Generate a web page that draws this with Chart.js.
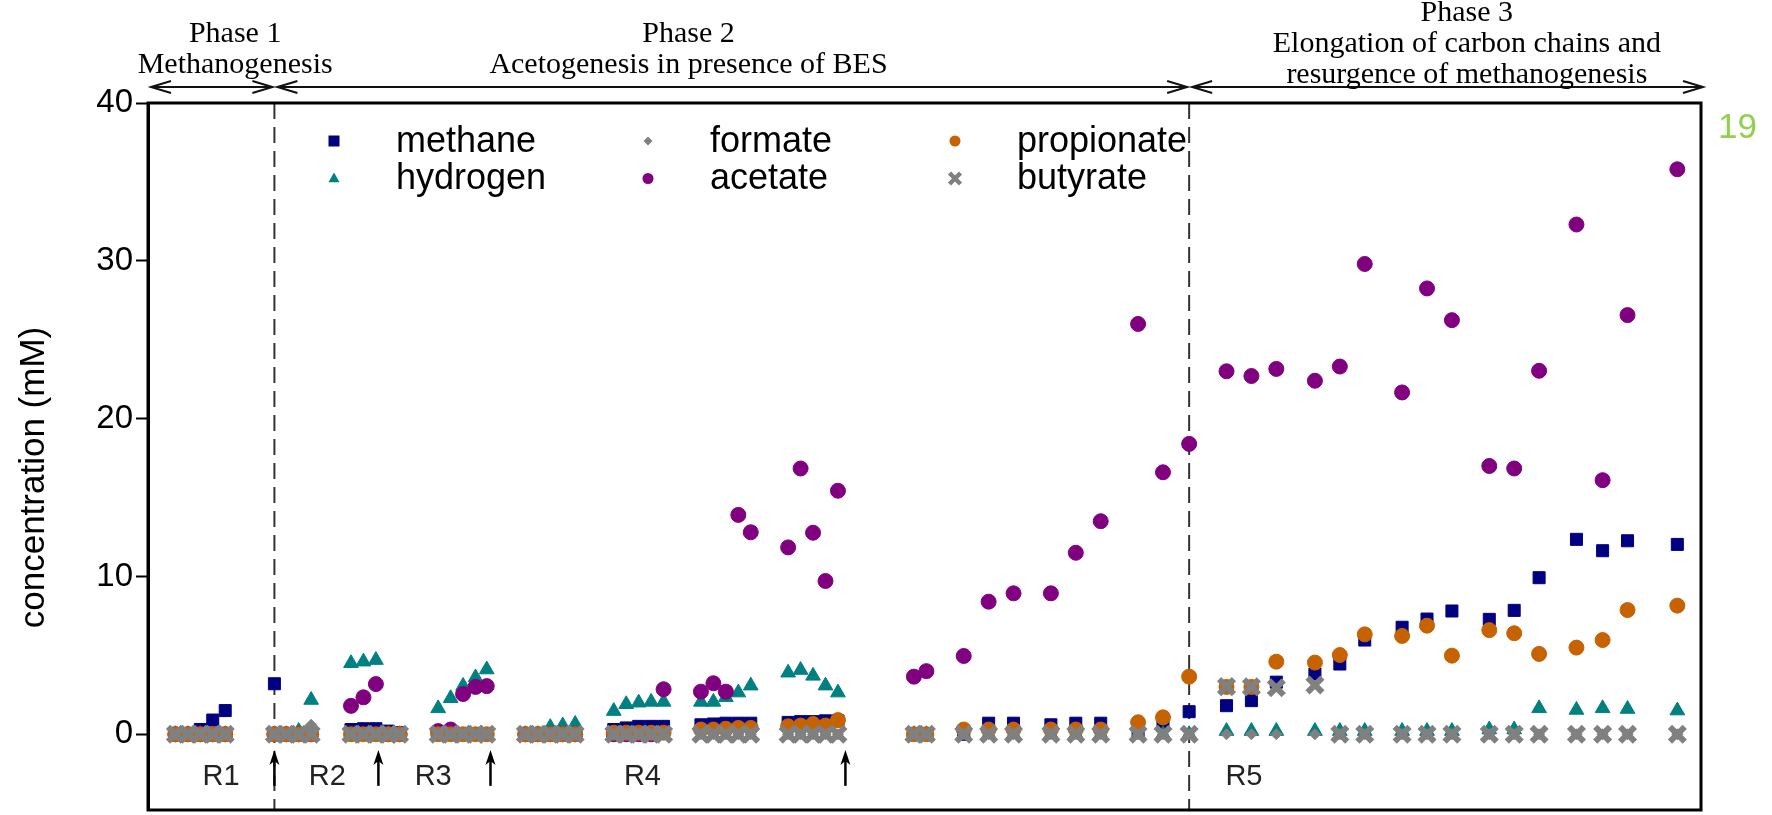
<!DOCTYPE html>
<html>
<head>
<meta charset="utf-8">
<title>Concentration by phase</title>
<script src="https://cdn.jsdelivr.net/npm/chart.js@4.4.1/dist/chart.umd.min.js"></script>
<style>
  html, body { margin: 0; padding: 0; background: #fff; }
  #wrap { width: 1772px; height: 815px; }
</style>
</head>
<body>
<div id="wrap"><canvas id="chart" width="1772" height="815"></canvas></div>
<script>
const sampleDays = [
  2.2, 3.2, 4.2, 5.2, 6.2,                 // R1
  10.15, 11.1, 12.1, 13.1,                 // R2 (start)
  16.3, 17.3, 18.3, 19.3, 20.2,            // R2
  23.3, 24.3, 25.3, 26.3, 27.2,            // R3
  30.3, 31.3, 32.3, 33.3, 34.3,            // R4
  37.4, 38.4, 39.4, 40.4, 41.4,
  44.4, 45.4, 46.4, 47.4, 48.4,
  51.4, 52.4, 53.4, 54.4, 55.4,
  61.5, 62.5, 65.5, 67.5, 69.5, 72.5, 74.5, 76.5, 79.5, 81.5, 83.6,
  86.6, 88.6, 90.6, 93.7, 95.7, 97.7, 100.7, 102.7, 104.7, 107.7, 109.7, 111.7, 114.7, 116.8, 118.8, 122.8 // R5
];

// Concentrations (mM)
const methane = [
  0, 0, 0.3, 0.9, 1.5,
  3.2, 0, 0, 0,
  0.3, 0.35, 0.35, 0.2, 0.1,
  0, 0, 0, 0, 0,
  0, 0, 0, 0, 0,
  0.3, 0.4, 0.5, 0.5, 0.5,
  0.6, 0.65, 0.7, 0.7, 0.7,
  0.75, 0.8, 0.8, 0.85, 0.85,
  0, 0, 0, 0.7, 0.7, 0.6, 0.7, 0.7, 0.1, 0.65, 1.43,
  1.81, 2.13, 3.3, 3.82, 4.45, 5.97, 6.78, 7.3, 7.81, 7.28, 7.85, 9.92, 12.35, 11.63, 12.26, 12.03
];
const hydrogen = [
  0, 0, 0, 0, 0,
  0, 0, 0.2, 2.17,
  4.5, 4.6, 4.7, 0, 0,
  1.64, 2.28, 3.06, 3.6, 4.1,
  0, 0, 0.45, 0.55, 0.65,
  1.47, 1.9, 2.0, 2.05, 2.05,
  2.05, 2.05, 2.34, 2.64, 3.08,
  3.9, 4.07, 3.7, 3.08, 2.64,
  0, 0, 0, 0, 0, 0, 0, 0, 0, 0, 0,
  0.2, 0.2, 0.2, 0.2, 0.2, 0.2, 0.2, 0.2, 0.2, 0.3, 0.3, 1.64, 1.54, 1.64, 1.6, 1.5
];
const formate = [
  0, 0, 0, 0, 0,
  0, 0, 0, 0.6,
  0, 0, 0, 0, 0,
  0, 0, 0, 0, 0,
  0, 0, 0, 0, 0,
  0, 0, 0, 0, 0,
  0, 0, 0, 0, 0,
  0, 0, 0, 0, 0,
  0, 0, 0, 0, 0, 0, 0, 0, 0, 0, 0,
  0, 0, 0, 0, 0, 0, 0, 0, 0, 0, 0, 0, 0, 0, 0, 0
];
const acetate = [
  0, 0, 0, 0, 0,
  0, 0, 0, 0,
  1.8, 2.34, 3.18, 0, 0,
  0.2, 0.3, 2.55, 3.0, 3.05,
  0, 0, 0, 0, 0,
  0, 0, 0, 0, 2.85,
  2.7, 3.23, 2.7, 13.9, 12.8,
  11.84, 16.84, 12.77, 9.71, 15.43,
  3.65, 4.0, 4.96, 8.4, 8.93, 8.93, 11.5, 13.5, 26.0, 16.6, 18.4,
  23.0, 22.7, 23.15, 22.4, 23.3, 29.8, 21.66, 28.25, 26.24, 17.0, 16.84, 23.03, 32.3, 16.1, 26.56, 35.8
];
const propionate = [
  0, 0, 0, 0, 0,
  0, 0, 0, 0,
  0, 0, 0, 0, 0,
  0, 0, 0, 0, 0,
  0, 0, 0, 0, 0,
  0.1, 0.1, 0.1, 0.1, 0.1,
  0.3, 0.3, 0.35, 0.4, 0.4,
  0.5, 0.55, 0.65, 0.55, 0.9,
  0, 0, 0.3, 0.3, 0.3, 0.3, 0.3, 0.3, 0.76, 1.07, 3.65,
  3.0, 3.0, 4.6, 4.54, 5.02, 6.33, 6.23, 6.88, 4.98, 6.6, 6.4, 5.09, 5.49, 5.97, 7.87, 8.15
];
const butyrate = [
  0, 0, 0, 0, 0,
  0, 0, 0, 0,
  0, 0, 0, 0, 0,
  0, 0, 0, 0, 0,
  0, 0, 0, 0, 0,
  0, 0, 0, 0, 0,
  0, 0, 0, 0, 0,
  0, 0, 0, 0, 0,
  0, 0, 0, 0, 0, 0, 0, 0, 0, 0, 0,
  3.02, 3.0, 2.95, 3.12, 0, 0, 0, 0, 0, 0, 0, 0, 0, 0, 0, 0
];

// Axis ticks and ranges
const yTicks = [0, 10, 20, 30, 40];
const yMin = -4.8;
const yMax = 40;
const xMax = 124.7;

// Phase annotations
const phaseBounds = [0, 10.15, 83.6, xMax];
const phaseDividers = [10.15, 83.6];
const phaseTitleX = [7.0, 43.4, 105.9];
const phaseTitles = [
  ['Phase 1', 'Methanogenesis'],
  ['Phase 2', 'Acetogenesis in presence of BES'],
  ['Phase 3', 'Elongation of carbon chains and', 'resurgence of methanogenesis']
];

// Reactor cycle labels and feeding arrows below the data
const cycleLabels = ['R1', 'R2', 'R3', 'R4', 'R5'];
const cycleLabelX = [5.86, 14.4, 22.9, 39.7, 88.0];
const cycleLabelY = -3.2;
const feedArrowX = [10.15, 18.5, 27.5, 56.0];
const feedArrowTop = -1.0;
const feedArrowBottom = -3.27;

const SANS = '"Liberation Sans", Arial, sans-serif';
const SERIF = '"Liberation Serif", "Times New Roman", serif';

const seriesStyle = [
  { label: 'methane', data: methane, color: '#000080', style: 'rect', radius: 8.5, order: 6 },
  { label: 'hydrogen', data: hydrogen, color: '#008080', style: 'triangle', radius: 8.5, order: 5 },
  { label: 'formate', data: formate, color: '#808080', style: 'rectRot', radius: 5.5, order: 2 },
  { label: 'acetate', data: acetate, color: '#800080', style: 'circle', radius: 7.5, order: 4 },
  { label: 'propionate', data: propionate, color: '#C66300', style: 'circle', radius: 7.5, order: 3 },
  { label: 'butyrate', data: butyrate, color: '#808080', style: 'crossRot', radius: 10.5, order: 1 }
];

// legend grid: column order as in the figure
const legendColumns = [['methane', 'hydrogen'], ['formate', 'acetate'], ['propionate', 'butyrate']];

const datasets = seriesStyle.map(s => ({
  label: s.label,
  data: sampleDays.map((d, i) => ({ x: d, y: s.data[i] })),
  order: s.order,
  showLine: false,
  pointStyle: s.style,
  pointRadius: s.radius,
  pointHoverRadius: s.radius,
  pointBackgroundColor: s.color,
  pointBorderColor: s.color,
  pointBorderWidth: s.style === 'crossRot' ? 6 : 1
}));

function drawMarker(ctx, style, color, x, y, r) {
  ctx.save();
  ctx.fillStyle = color;
  ctx.strokeStyle = color;
  ctx.beginPath();
  if (style === 'rect') {
    ctx.rect(x - r, y - r, 2 * r, 2 * r);
    ctx.fill();
  } else if (style === 'triangle') {
    ctx.moveTo(x, y - r * 1.1);
    ctx.lineTo(x + r, y + r * 0.7);
    ctx.lineTo(x - r, y + r * 0.7);
    ctx.closePath();
    ctx.fill();
  } else if (style === 'rectRot') {
    ctx.moveTo(x, y - r);
    ctx.lineTo(x + r, y);
    ctx.lineTo(x, y + r);
    ctx.lineTo(x - r, y);
    ctx.closePath();
    ctx.fill();
  } else if (style === 'circle') {
    ctx.arc(x, y, r, 0, Math.PI * 2);
    ctx.fill();
  } else if (style === 'crossRot') {
    ctx.lineWidth = 4.5;
    ctx.moveTo(x - r, y - r); ctx.lineTo(x + r, y + r);
    ctx.moveTo(x + r, y - r); ctx.lineTo(x - r, y + r);
    ctx.stroke();
  }
  ctx.restore();
}

function openHead(ctx, x, y, dir) {
  // dir = 1 -> points right, -1 -> points left
  ctx.beginPath();
  ctx.moveTo(x - dir * 20, y - 6);
  ctx.lineTo(x, y);
  ctx.lineTo(x - dir * 20, y + 6);
  ctx.stroke();
}

const decorations = {
  id: 'decorations',
  beforeDatasetsDraw(chart) {
    const { ctx, chartArea, scales: { x } } = chart;
    ctx.save();
    ctx.strokeStyle = '#333';
    ctx.lineWidth = 2;
    ctx.setLineDash([16, 8]);
    phaseDividers.forEach(v => {
      const px = x.getPixelForValue(v);
      ctx.beginPath();
      ctx.moveTo(px, chartArea.top);
      ctx.lineTo(px, chartArea.bottom);
      ctx.stroke();
    });
    ctx.restore();
  },
  afterDraw(chart) {
    const { ctx, chartArea, scales: { x, y } } = chart;
    ctx.save();

    // plot frame
    ctx.strokeStyle = '#000';
    ctx.lineWidth = 3;
    ctx.strokeRect(chartArea.left, chartArea.top, chartArea.right - chartArea.left, chartArea.bottom - chartArea.top);

    // y axis title, sitting a little below the middle of the axis as in the figure
    ctx.save();
    ctx.translate(34, (chartArea.top + chartArea.bottom) / 2 + 21);
    ctx.rotate(-Math.PI / 2);
    ctx.fillStyle = '#000';
    ctx.font = '35px ' + SANS;
    ctx.textAlign = 'center';
    ctx.textBaseline = 'middle';
    ctx.fillText('concentration (mM)', 0, 0);
    ctx.restore();

    // feeding arrows
    ctx.lineWidth = 2.5;
    ctx.fillStyle = '#000';
    feedArrowX.forEach(v => {
      const px = x.getPixelForValue(v);
      const top = y.getPixelForValue(feedArrowTop);
      const bot = y.getPixelForValue(feedArrowBottom);
      ctx.beginPath();
      ctx.moveTo(px, bot);
      ctx.lineTo(px, top + 6);
      ctx.stroke();
      ctx.beginPath();
      ctx.moveTo(px, top);
      ctx.lineTo(px + 5, top + 15);
      ctx.lineTo(px, top + 11);
      ctx.lineTo(px - 5, top + 15);
      ctx.closePath();
      ctx.fill();
    });

    // cycle labels
    ctx.fillStyle = '#222';
    ctx.font = '29px ' + SANS;
    ctx.textAlign = 'center';
    ctx.textBaseline = 'alphabetic';
    cycleLabels.forEach((t, i) => {
      ctx.fillText(t, x.getPixelForValue(cycleLabelX[i]), y.getPixelForValue(cycleLabelY));
    });

    // legend inside the plot
    ctx.font = '36px ' + SANS;
    ctx.textAlign = 'left';
    ctx.textBaseline = 'middle';
    const colX = [186, 500, 807];
    const rowY = [38, 75.5];
    legendColumns.forEach((col, ci) => {
      col.forEach((name, ri) => {
        const s = seriesStyle.find(ss => ss.label === name);
        const mx = chartArea.left + colX[ci];
        const my = chartArea.top + rowY[ri];
        const r = s.style === 'rectRot' ? 4.5 : 5.5;
        drawMarker(ctx, s.style, s.color, mx, my, r);
        ctx.fillStyle = '#000';
        ctx.fillText(name, mx + 62, my + 1);
      });
    });

    // phase arrows above the plot
    const arrowY = chartArea.top - 16;
    ctx.strokeStyle = '#111';
    ctx.lineWidth = 2;
    for (let i = 0; i < phaseBounds.length - 1; i++) {
      const a = x.getPixelForValue(phaseBounds[i]) + 3;
      const b = x.getPixelForValue(phaseBounds[i + 1]) + (i === phaseBounds.length - 2 ? 2 : -2);
      ctx.beginPath();
      ctx.moveTo(a, arrowY);
      ctx.lineTo(b, arrowY);
      ctx.stroke();
      openHead(ctx, a, arrowY, -1);
      openHead(ctx, b, arrowY, 1);
    }

    // phase titles
    ctx.fillStyle = '#000';
    ctx.font = '30px ' + SERIF;
    ctx.textAlign = 'center';
    ctx.textBaseline = 'alphabetic';
    phaseTitles.forEach((lines, i) => {
      const cx = x.getPixelForValue(phaseTitleX[i]);
      const lastBase = i === 2 ? arrowY - 4 : arrowY - 14;
      lines.forEach((t, li) => {
        ctx.fillText(t, cx, lastBase - (lines.length - 1 - li) * 31);
      });
    });

    // stray page number on the right
    ctx.fillStyle = '#92D050';
    ctx.font = '35px ' + SANS;
    ctx.textAlign = 'left';
    ctx.fillText('19', chartArea.right + 17, chartArea.top + 35);

    ctx.restore();
  }
};

new Chart(document.getElementById('chart'), {
  type: 'scatter',
  data: { datasets },
  options: {
    responsive: false,
    animation: false,
    events: [],
    layout: {
      autoPadding: false,
      padding: { top: 103, right: 71, bottom: 5, left: 0 }
    },
    plugins: {
      legend: { display: false },
      tooltip: { enabled: false }
    },
    scales: {
      x: {
        type: 'linear',
        min: 0,
        max: xMax,
        display: false
      },
      y: {
        min: yMin,
        max: yMax,
        afterBuildTicks: axis => { axis.ticks = yTicks.map(v => ({ value: v })); },
        afterFit: axis => {
          axis.width = 148;
          // labels never reach the plot's bottom edge, so no extra room is needed there
          axis.paddingTop = 0;
          axis.paddingBottom = 0;
        },
        grid: {
          drawOnChartArea: false,
          drawTicks: true,
          tickLength: 12,
          tickWidth: 2,
          tickColor: '#000'
        },
        border: { display: true, color: '#000', width: 3 },
        ticks: {
          color: '#000',
          padding: 3,
          font: { family: SANS, size: 33 }
        },
        title: { display: false }
      }
    }
  },
  plugins: [decorations]
});
</script>
</body>
</html>
